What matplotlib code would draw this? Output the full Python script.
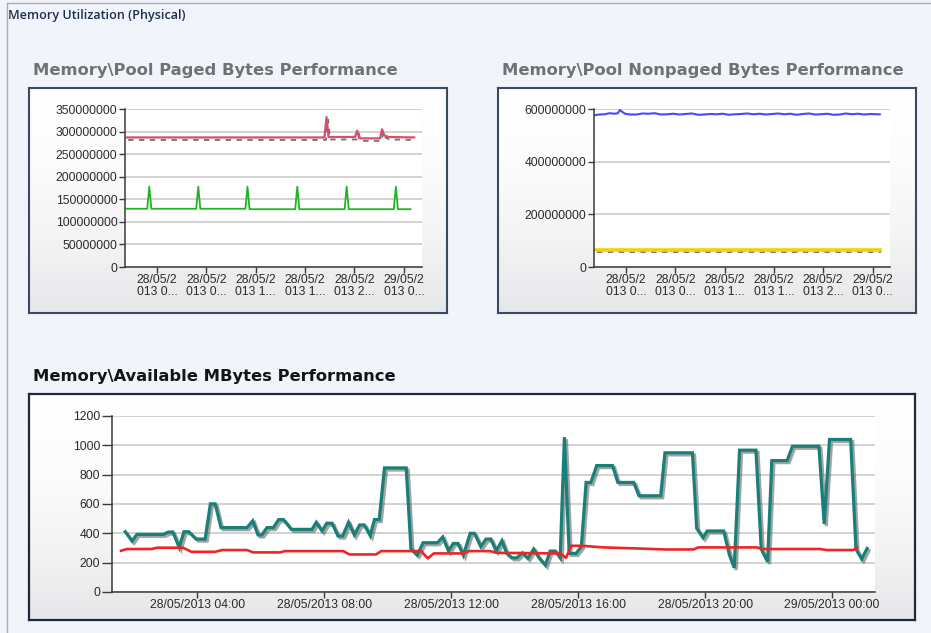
import matplotlib
matplotlib.use("Agg")
import matplotlib.pyplot as plt
import matplotlib.dates as mdates
import matplotlib.patheffects as pe
from matplotlib.colors import LinearSegmentedColormap
from matplotlib.lines import Line2D
from matplotlib.transforms import offset_copy
from datetime import datetime, timedelta
import numpy as np

# ---------------------------------------------------------------- data
BASE = datetime(2013, 5, 28)

# Memory\Pool Paged Bytes (values in millions of bytes)
paged_a_times = ["01:33", "17:34", "17:44", "17:54", "20:03", "20:13", "20:23",
                 "22:04", "22:14", "22:24", "22:44", "00:50"]
paged_a_values = [287, 287, 332, 288, 288, 302, 285, 285, 305, 292, 288, 287]

paged_b_times = ["01:33", "03:13", "03:23", "03:33", "07:11", "07:21", "07:31",
                 "11:10", "11:20", "11:30", "15:12", "15:22", "15:32",
                 "19:12", "19:22", "19:32", "23:11", "23:21", "23:31", "00:32"]
paged_b_values = [129, 129, 178, 129, 129, 178, 129, 129, 178, 128, 128, 178, 128,
                  128, 178, 128, 128, 178, 128, 128]

# Memory\Pool Nonpaged Bytes (values in millions of bytes)
nonpaged_a_times = ["01:30", "01:50", "02:15", "02:40", "03:05", "03:20", "03:30",
                    "03:40", "03:55", "04:20", "04:50", "05:20", "05:50", "06:20",
                    "06:50", "07:20", "07:50", "08:20", "08:50", "09:20", "09:50",
                    "10:20", "10:50", "11:20", "11:50", "12:20", "12:50", "13:20",
                    "13:50", "14:20", "14:50", "15:20", "15:50", "16:20", "16:50",
                    "17:20", "17:50", "18:20", "18:50", "19:20", "19:50", "20:20",
                    "20:50", "21:20", "21:50", "22:20", "22:50", "23:20", "23:50",
                    "00:20", "00:35"]
nonpaged_a_values = [577, 579, 580, 584, 582, 584, 596, 590, 582, 579, 579, 583, 582,
                     584, 579, 580, 582, 579, 581, 583, 578, 579, 581, 580, 582, 578,
                     580, 581, 583, 580, 582, 579, 581, 583, 580, 582, 578, 581, 583,
                     579, 580, 582, 578, 579, 583, 580, 582, 579, 581, 580, 580]

nonpaged_b_times = ["01:30", "00:35"]
nonpaged_b_values = [64, 64]

# Memory\Available MBytes
avail_a_times = ["01:44", "01:57", "02:06", "02:56", "03:06", "03:14", "03:26", "03:35",
                 "03:44", "03:58", "04:15", "04:25", "04:34", "04:45", "05:34", "05:45",
                 "05:55", "06:02", "06:12", "06:24", "06:34", "06:43", "06:58", "07:37",
                 "07:45", "07:56", "08:05", "08:15", "08:26", "08:35", "08:46", "08:57",
                 "09:07", "09:16", "09:27", "09:35", "09:44", "09:54", "10:35", "10:44",
                 "10:56", "11:07", "11:34", "11:44", "11:55", "12:04", "12:13", "12:23",
                 "12:36", "12:44", "12:56", "13:06", "13:15", "13:25", "13:36", "13:45",
                 "13:55", "14:04", "14:15", "14:25", "14:36", "14:46", "14:58", "15:07",
                 "15:17", "15:26", "15:34", "15:43", "15:56", "16:06", "16:15", "16:24",
                 "16:35", "17:05", "17:15", "17:45", "17:55", "18:36", "18:44", "19:36",
                 "19:44", "19:56", "20:04", "20:35", "20:46", "20:55", "21:05", "21:36",
                 "21:46", "21:58", "22:06", "22:35", "22:45", "23:35", "23:45", "23:55",
                 "00:35", "00:45", "00:56", "01:06"]
avail_a_values = [411, 347, 393, 393, 409, 409, 304, 411, 411, 361,
                  361, 601, 601, 439, 439, 485, 389, 389, 439, 439,
                  494, 494, 427, 427, 475, 416, 469, 469, 382, 382,
                  475, 389, 457, 457, 384, 494, 494, 846, 846, 293,
                  251, 336, 336, 375, 279, 331, 331, 251, 400, 400,
                  309, 361, 361, 280, 350, 263, 233, 233, 267, 229,
                  293, 233, 183, 279, 279, 233, 1056, 263, 263, 309,
                  747, 747, 862, 862, 747, 747, 656, 656, 949, 949,
                  434, 370, 416, 416, 251, 165, 967, 967, 293, 206,
                  896, 896, 994, 994, 464, 1040, 1040, 293, 224, 297]

avail_b_times = ["01:36", "01:47", "02:34", "02:44", "03:33", "03:49", "04:34", "04:47",
                 "05:34", "05:46", "06:37", "06:46", "08:36", "08:48", "09:38", "09:48",
                 "11:03", "11:16", "11:27", "12:23", "12:33", "13:14", "13:26", "15:26",
                 "15:37", "15:47", "16:07", "16:48", "17:51", "18:44", "19:38", "19:47",
                 "21:38", "21:47", "23:37", "23:50", "00:40", "00:47"]
avail_b_values = [281, 293, 293, 302, 302, 274, 274, 286, 286, 270,
                  270, 279, 279, 256, 256, 279, 279, 229, 263, 263,
                  279, 279, 267, 263, 233, 315, 315, 304, 297, 290,
                  290, 304, 304, 293, 293, 286, 286, 302]

paged_yticks = [0, 50, 100, 150, 200, 250, 300, 350]
nonpaged_yticks = [0, 200, 400, 600]
avail_yticks = [0, 200, 400, 600, 800, 1000, 1200]
top_xtick_labels = ["28/05/2\n013 0...", "28/05/2\n013 0...", "28/05/2\n013 1...",
                    "28/05/2\n013 1...", "28/05/2\n013 2...", "29/05/2\n013 0..."]


def to_times(hhmm):
    """Turn a run of HH:MM stamps into datetimes, rolling over midnight."""
    out, day, prev = [], 0, None
    for s in hhmm:
        h, m = map(int, s.split(":"))
        mins = h * 60 + m
        if prev is not None and mins < prev:
            day += 1
        prev = mins
        out.append(BASE + timedelta(days=day, minutes=mins))
    return out


# ---------------------------------------------------------------- layout
W, H, DPI = 931, 633, 100
fig = plt.figure(figsize=(W / DPI, H / DPI), dpi=DPI)
fig.patch.set_facecolor("#f1f5fb")


def rect(x0, y0, x1, y1):
    return [x0 / W, 1 - y1 / H, (x1 - x0) / W, (y1 - y0) / H]


def fx(x):
    return x / W


def fy(y):
    return 1 - y / H


# outer frame of the page
fig.add_artist(Line2D([fx(7), fx(7)], [fy(3), 0], color="#a9adb3", lw=1.0))
fig.add_artist(Line2D([fx(7), 1], [fy(3), fy(3)], color="#a9adb3", lw=1.0))
fig.text(fx(8), fy(15), "Memory Utilization (Physical)", fontsize=9.1,
         family="Open Sans", weight="semibold", color="#1f2f4f", va="center")

grad_cmap = LinearSegmentedColormap.from_list(
    "panel", ["#ffffff", "#fcfcfc", "#f4f4f5", "#e6e7e9"])


def panel(x0, y0, x1, y1, edge, lw):
    bx = fig.add_axes(rect(x0, y0, x1, y1), zorder=0)
    bx.imshow(np.linspace(0, 1, 256)[:, None], aspect="auto", cmap=grad_cmap,
              extent=[0, 1, 0, 1], origin="upper")
    bx.set_xticks([])
    bx.set_yticks([])
    for sp in bx.spines.values():
        sp.set_color(edge)
        sp.set_linewidth(lw)
    return bx


def style_axes(ax, tick_len):
    ax.set_facecolor("white")
    for side in ("top", "right"):
        ax.spines[side].set_visible(False)
    for side in ("left", "bottom"):
        ax.spines[side].set_color("#3a3a3a")
        ax.spines[side].set_linewidth(1.1)
    ax.yaxis.grid(True, color="#cbcbcb", lw=1.2)
    ax.set_axisbelow(True)
    ax.tick_params(axis="both", direction="out", colors="#3a3a3a",
                   labelcolor="#2a2a2a", labelsize=8.7, width=1.0)
    ax.tick_params(axis="y", length=tick_len, pad=1.5)
    ax.tick_params(axis="x", length=4, pad=1.0)
    for lab in ax.get_xticklabels() + ax.get_yticklabels():
        lab.set_family("Liberation Sans")


tick_hours = [BASE + timedelta(hours=h) for h in (4, 8, 12, 16, 20, 24)]

title_kw = dict(family="DejaVu Sans", weight="bold", va="center")

# ---------------------------------------------------------------- paged pool
panel(29, 88, 447, 313, "#3b4a63", 1.5)
fig.text(fx(33), fy(70), "Memory\\Pool Paged Bytes Performance", fontsize=11.75,
         color="#717171", **title_kw)
ax1 = fig.add_axes(rect(125, 109, 422, 267), zorder=1)
shadow_tr = offset_copy(ax1.transData, fig=fig, x=1.5, y=-2.5, units="dots")
t = to_times(paged_a_times)
v = np.array(paged_a_values) * 1e6
ax1.plot(t, v, color="#4d4d4d", lw=1.3, ls=(0, (3, 3)), alpha=0.8,
         transform=shadow_tr)
ax1.plot(t, v, color="#d6506d", lw=1.6)
ax1.plot(to_times(paged_b_times), np.array(paged_b_values) * 1e6,
         color="#1fb51f", lw=1.3)
ax1.set_ylim(0, 350e6)
ax1.set_yticks(np.array(paged_yticks) * 1e6)
ax1.set_yticklabels([str(int(y * 1e6)) for y in paged_yticks])
ax1.set_xlim(BASE + timedelta(hours=1, minutes=25),
             BASE + timedelta(hours=25, minutes=28))
ax1.set_xticks(mdates.date2num(tick_hours))
ax1.set_xticklabels(top_xtick_labels, linespacing=1.0)
style_axes(ax1, 4)

# ---------------------------------------------------------------- nonpaged pool
panel(498, 88, 916, 313, "#3b4a63", 1.5)
fig.text(fx(502), fy(70), "Memory\\Pool Nonpaged Bytes Performance", fontsize=11.75,
         color="#717171", **title_kw)
ax2 = fig.add_axes(rect(594, 109, 890, 267), zorder=1)
shadow_tr2 = offset_copy(ax2.transData, fig=fig, x=1.5, y=-2.0, units="dots")
ax2.plot(to_times(nonpaged_a_times), np.array(nonpaged_a_values) * 1e6,
         color="#4848ff", lw=1.5)
t = to_times(nonpaged_b_times)
v = np.array(nonpaged_b_values) * 1e6
ax2.plot(t, v, color="#4d4d4d", lw=1.3, ls=(0, (3, 3)), alpha=0.8,
         transform=shadow_tr2)
ax2.plot(t, v, color="#f4d000", lw=2.6)
ax2.set_ylim(0, 600e6)
ax2.set_yticks(np.array(nonpaged_yticks) * 1e6)
ax2.set_yticklabels([str(int(y * 1e6)) for y in nonpaged_yticks])
ax2.set_xlim(BASE + timedelta(hours=1, minutes=24),
             BASE + timedelta(hours=25, minutes=25))
ax2.set_xticks(mdates.date2num(tick_hours))
ax2.set_xticklabels(top_xtick_labels, linespacing=1.0)
style_axes(ax2, 4)

# ---------------------------------------------------------------- available MB
panel(29, 394, 915, 620, "#1d2a3d", 1.6)
fig.text(fx(33), fy(377), "Memory\\Available MBytes Performance", fontsize=11.75,
         color="#141414", **title_kw)
ax3 = fig.add_axes(rect(112, 416, 875, 592), zorder=1)
ax3.plot(to_times(avail_a_times), avail_a_values, color="#188078", lw=2.3,
         solid_joinstyle="miter",
         path_effects=[pe.SimpleLineShadow(offset=(1.5, -1.5), shadow_color="#5a5a5a",
                                           alpha=0.55),
                       pe.Normal()])
ax3.plot(to_times(avail_b_times), avail_b_values, color="#f02424", lw=1.9)
ax3.set_ylim(0, 1200)
ax3.set_yticks(avail_yticks)
ax3.set_xlim(BASE + timedelta(hours=1, minutes=19),
             BASE + timedelta(hours=25, minutes=21))
ax3.xaxis.set_major_locator(mdates.HourLocator(byhour=[0, 4, 8, 12, 16, 20]))
ax3.xaxis.set_major_formatter(mdates.DateFormatter("%d/%m/%Y %H:%M"))
style_axes(ax3, 7)

fig.savefig("out.png", dpi=DPI, facecolor=fig.get_facecolor())
